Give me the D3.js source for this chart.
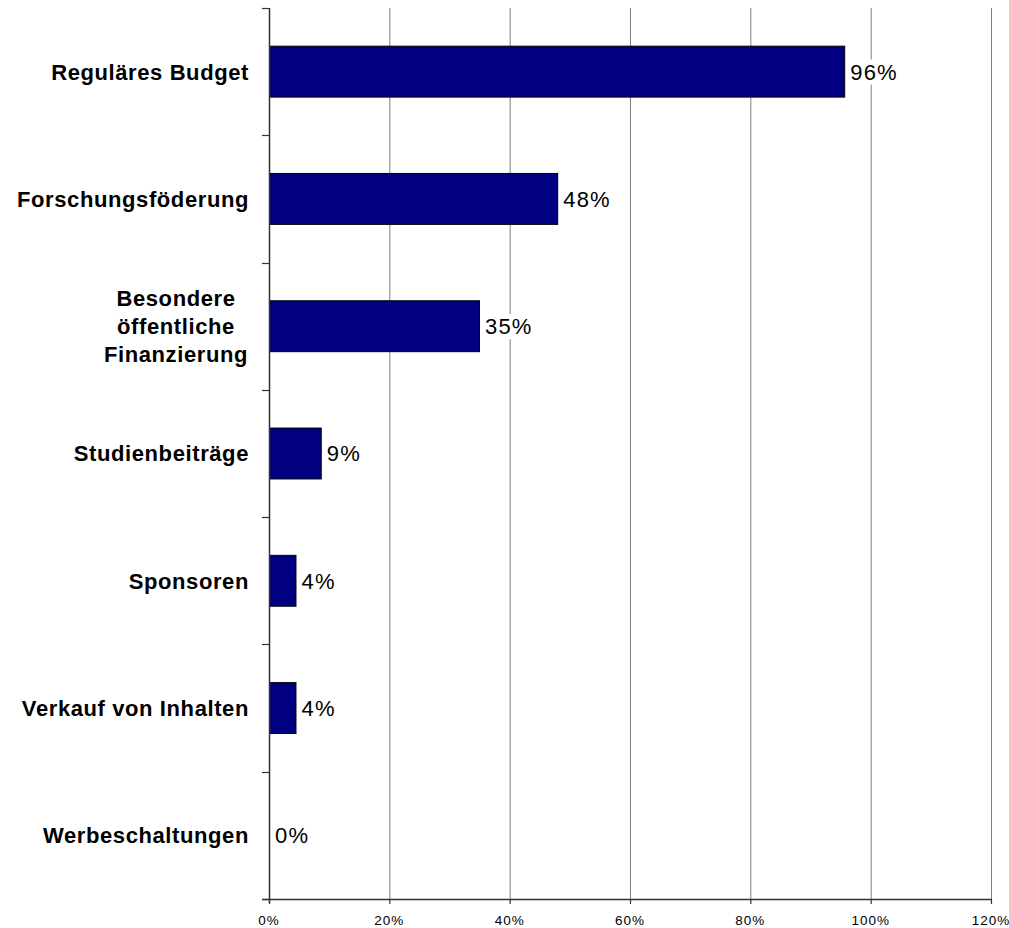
<!DOCTYPE html>
<html><head><meta charset="utf-8">
<script src="https://cdn.jsdelivr.net/npm/d3@7"></script>
<style>body{margin:0;background:#fff}svg{display:block}</style>
</head><body>
<svg id="c" width="1009" height="928"></svg>
<script>
const categories = ["Reguläres Budget","Forschungsföderung","Besondere öffentliche Finanzierung","Studienbeiträge","Sponsoren","Verkauf von Inhalten","Werbeschaltungen"];
const labelLines = [["Reguläres Budget"],["Forschungsföderung"],["Besondere","öffentliche","Finanzierung"],["Studienbeiträge"],["Sponsoren"],["Verkauf von Inhalten"],["Werbeschaltungen"]];
const values = [95.6, 47.9, 34.9, 8.6, 4.4, 4.4, 0];
const valueLabels = ["96%","48%","35%","9%","4%","4%","0%"];
const xTicks = [0,20,40,60,80,100,120];
const xTickLabels = ["0%","20%","40%","60%","80%","100%","120%"];

const svg = d3.select("#c");
const L = 269, R = 991, T = 8, B = 899;
const FONT = "'Liberation Sans', Arial, sans-serif";
const x = d3.scaleLinear().domain([0,120]).range([L,R]);
const y = d3.scaleBand().domain(categories).range([T,B]).paddingInner(0.6).paddingOuter(0.3);

// gridlines
svg.append("g").selectAll("line").data(xTicks.slice(1)).join("line")
  .attr("x1", d=>x(d)+0.5).attr("x2", d=>x(d)+0.5).attr("y1", T).attr("y2", B)
  .attr("stroke", "#808080").attr("stroke-width", 1);

// bars
svg.append("g").selectAll("rect").data(values).join("rect")
  .attr("x", x(0)+0.5).attr("y", (d,i)=>y(categories[i]))
  .attr("width", d=>x(d)-x(0)).attr("height", y.bandwidth())
  .attr("fill", "#000080").attr("stroke", "#000").attr("stroke-width", 1);

// value labels with white background
const vl = svg.append("g").selectAll("g").data(values).join("g")
  .attr("transform", (d,i)=>`translate(${x(d)+6},${y(categories[i])+y.bandwidth()/2})`);
vl.each(function(d,i){
  const g = d3.select(this);
  const t = g.append("text").text(valueLabels[i])
    .attr("font-family",FONT).attr("font-size",22).attr("letter-spacing",1.2)
    .attr("dy","0.36em").attr("fill","#000");
  const bb = t.node().getBBox();
  g.insert("rect","text").attr("x",bb.x-1).attr("y",bb.y).attr("width",bb.width+2).attr("height",bb.height).attr("fill","#fff");
});

// y axis
svg.append("line").attr("x1",L+0.5).attr("x2",L+0.5).attr("y1",T).attr("y2",B+4).attr("stroke","#333").attr("stroke-width",1.5);
const bounds = categories.map(c=>y(c)-y.step()*y.paddingInner()/2).concat([B]);
bounds[0] = T;
svg.append("g").selectAll("line").data(bounds).join("line")
  .attr("x1",L-7).attr("x2",L).attr("y1",d=>Math.round(d)+0.5).attr("y2",d=>Math.round(d)+0.5)
  .attr("stroke","#333").attr("stroke-width",1.2);

// x axis
svg.append("line").attr("x1",L-7).attr("x2",R).attr("y1",B+0.5).attr("y2",B+0.5).attr("stroke","#333").attr("stroke-width",1.5);
svg.append("g").selectAll("line").data(xTicks).join("line")
  .attr("x1",d=>x(d)+0.5).attr("x2",d=>x(d)+0.5).attr("y1",B).attr("y2",B+5)
  .attr("stroke","#333").attr("stroke-width",1.2);
svg.append("g").selectAll("text").data(xTicks).join("text")
  .attr("x",d=>x(d)).attr("y",925).attr("text-anchor","middle")
  .attr("font-family",FONT).attr("font-size",13.5).attr("letter-spacing",1)
  .attr("fill","#000").text((d,i)=>xTickLabels[i]);

// category labels
const cl = svg.append("g").selectAll("text").data(labelLines).join("text")
  .attr("font-family",FONT).attr("font-size",22).attr("font-weight","bold")
  .attr("letter-spacing",0.6).attr("fill","#000");
cl.each(function(lines,i){
  const t = d3.select(this);
  const cy = y(categories[i]) + y.bandwidth()/2;
  const lh = 28;
  if (lines.length === 1) {
    t.append("tspan").attr("x",249).attr("text-anchor","end").attr("y",cy).attr("dy","0.36em").text(lines[0]);
  } else {
    t.attr("text-anchor","middle");
    lines.forEach((ln,k)=>{
      t.append("tspan").attr("x",176).attr("y",cy+(k-(lines.length-1)/2)*lh).attr("dy","0.36em").text(ln);
    });
  }
});
</script>
</body></html>
